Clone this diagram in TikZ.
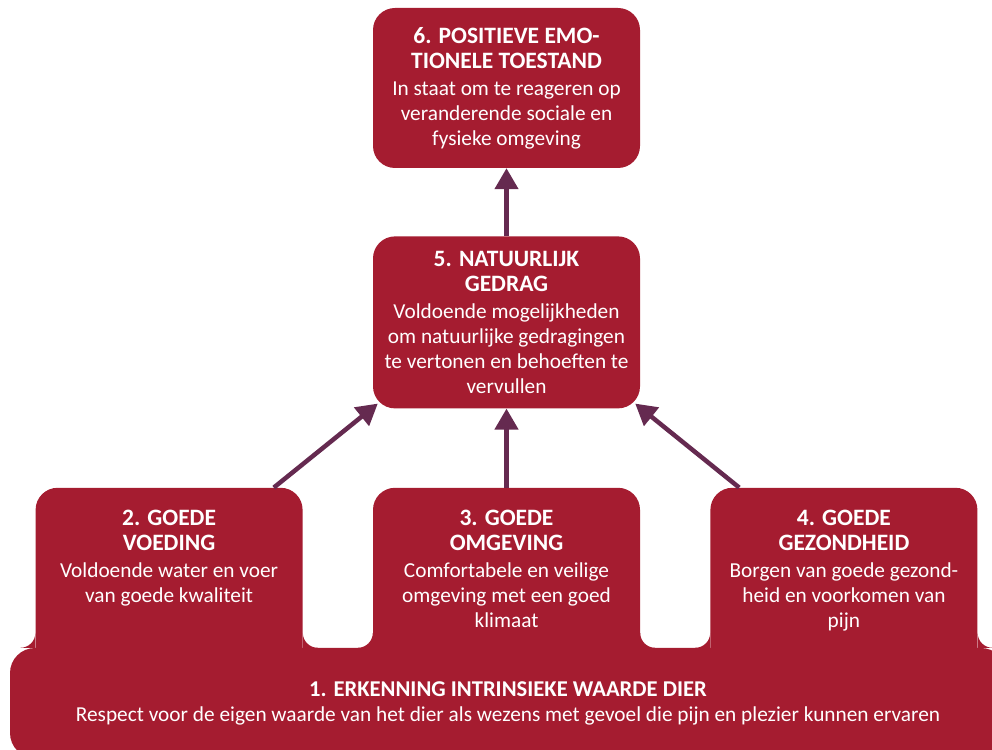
\documentclass[tikz,border=0pt]{standalone}
\usepackage{fontspec}
\setmainfont{Carlito}
\usepackage{tikz}
\usetikzlibrary{positioning,arrows.meta}
\definecolor{welfarered}{HTML}{A51C30}
\definecolor{arrowplum}{HTML}{652A50}
\newcommand{\boxtitle}[1]{{\fontsize{23.5}{24.5}\selectfont\bfseries #1}}
\newcommand{\lowertext}[1]{\parbox[c][183pt][t]{262pt}{\centering\vspace*{22pt}#1}}

\begin{document}
\begin{tikzpicture}[x=1pt,y=1pt,>={Triangle[length=21pt,width=23pt]},
  main box/.style={rectangle,rounded corners=22pt,fill=welfarered,
  text=white,minimum width=267pt,inner sep=0pt,align=center,
  font=\fontsize{21.3}{25}\selectfont},
  flow/.style={->,draw=arrowplum,line width=4.5pt}]

  \useasboundingbox (0,0) rectangle (992,749);

  \node[main box, minimum height=160pt] (b6) at (506.5,661)
    {\boxtitle{6. POSITIEVE EMO-}\\\boxtitle{TIONELE TOESTAND}\\[2pt]In staat om te reageren op\\veranderende sociale en\\fysieke omgeving};
  \node[main box, minimum height=172pt] (b5) [below=68pt of b6]
    {\boxtitle{5. NATUURLIJK}\\\boxtitle{GEDRAG}\\[2pt]Voldoende mogelijkheden\\om natuurlijke gedragingen\\te vertonen en behoeften te\\vervullen};
  \node[main box] (b3) [below=79pt of b5]
    {\lowertext{\boxtitle{3. GOEDE}\\\boxtitle{OMGEVING}\\[2pt]Comfortabele en veilige\\omgeving met een goed\\klimaat}};
  \node[main box] (b2) [left=70pt of b3]
    {\lowertext{\boxtitle{2. GOEDE}\\\boxtitle{VOEDING}\\[2pt]Voldoende water en voer\\van goede kwaliteit}};
  \node[main box] (b4) [right=70pt of b3]
    {\lowertext{\boxtitle{4. GOEDE}\\\boxtitle{GEZONDHEID}\\[2pt]Borgen van goede gezond-\\heid en voorkomen van\\pijn}};
  \node[main box, rounded corners=25pt, minimum width=996pt, minimum height=110pt] (b1) at (508,46)
    {{\fontsize{22.6}{24.5}\selectfont\bfseries 1. ERKENNING INTRINSIEKE WAARDE DIER}\\Respect voor de eigen waarde van het dier als wezens met gevoel die pijn en plezier kunnen ervaren};

  % flared joints where the three boxes meet the base
  \foreach \b in {b2,b3,b4} {
    \fill[welfarered] (\b.west |- b1.north) -- ++(-15,0) arc[start angle=-90,end angle=0,radius=15] -- cycle;
    \fill[welfarered] (\b.east |- b1.north) -- ++(15,0) arc[start angle=-90,end angle=-180,radius=15] -- cycle;
  }

  \draw[flow] (b5) -- (b6);
  \draw[flow] (b3) -- (b5);
  \draw[flow] ([xshift=-29pt]b2.north east) -- ([shift={(5pt,5pt)}]b5.south west);
  \draw[flow] ([xshift=29pt]b4.north west) -- ([shift={(-5pt,5pt)}]b5.south east);
\end{tikzpicture}
\end{document}
